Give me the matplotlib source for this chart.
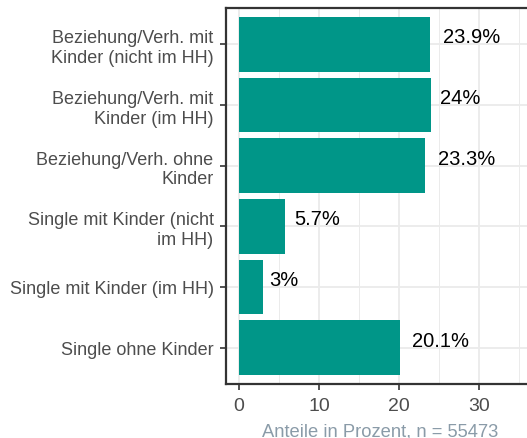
import matplotlib
matplotlib.use("Agg")
import matplotlib.pyplot as plt
from matplotlib.ticker import MultipleLocator
import matplotlib.transforms as mtransforms

categories = [
    "Beziehung/Verh. mit\nKinder (nicht im HH)",
    "Beziehung/Verh. mit\nKinder (im HH)",
    "Beziehung/Verh. ohne\nKinder",
    "Single mit Kinder (nicht\nim HH)",
    "Single mit Kinder (im HH)",
    "Single ohne Kinder",
]
values = [23.9, 24.0, 23.3, 5.7, 3.0, 20.1]
value_labels = ["23.9%", "24%", "23.3%", "5.7%", "3%", "20.1%"]
xticks = [0, 10, 20, 30]
xlabel = "Anteile in Prozent, n = 55473"

plt.rcParams["font.family"] = ["Liberation Sans", "DejaVu Sans"]
W, H = 527, 439
fig = plt.figure(figsize=(W / 100, H / 100), dpi=100)
ax = fig.add_axes([226 / W, (H - 385) / H, (534 - 226) / W, (385 - 9) / H])

bar_color = "#009688"
ypos = list(range(len(categories)))
ax.barh(ypos, values, height=0.9, color=bar_color, zorder=2)
ax.set_ylim(len(categories) - 0.4, -0.6)
ax.set_xlim(-1.625, 36.9)

ax.set_yticks(ypos)
ax.set_yticklabels(categories, fontsize=13, color="#4D4D4D", linespacing=1.2,
                   multialignment="right")
ax.set_xticks(xticks)
ax.set_xticklabels([str(t) for t in xticks], fontsize=14, color="#4D4D4D")
ax.xaxis.set_minor_locator(MultipleLocator(5))
ax.tick_params(axis="both", which="major", length=4.5, width=1.2, color="#333333")
ax.tick_params(axis="x", which="minor", length=0)
ax.tick_params(axis="y", pad=4.5)
ax.tick_params(axis="x", pad=5)

ax.grid(True, which="major", color="#EBEBEB", linewidth=1.3, zorder=0)
ax.grid(True, which="minor", axis="x", color="#EBEBEB", linewidth=0.7, zorder=0)
ax.set_axisbelow(True)

for s in ax.spines.values():
    s.set_color("#333333")
    s.set_linewidth(1.6)

ax.set_xlabel(xlabel, fontsize=13.2, color="#8A9BA8", labelpad=6)

texts = []
for i, (v, lab) in enumerate(zip(values, value_labels)):
    t = ax.text(v, i, lab, ha="left", va="center", fontsize=14.5, color="black", zorder=3)
    texts.append(t)

fig.canvas.draw()
r = fig.canvas.get_renderer()
for t in texts:
    w = t.get_window_extent(renderer=r).width
    t.set_transform(mtransforms.offset_copy(ax.transData, fig=fig, x=0.22 * w, y=7.5, units="dots"))

fig.savefig("out.png", dpi=100)
